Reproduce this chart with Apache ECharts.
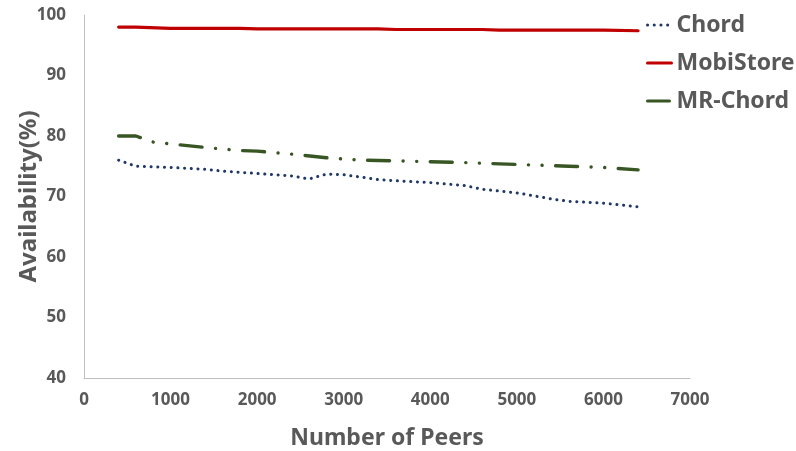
<!DOCTYPE html>
<html>
<head>
<meta charset="utf-8">
<script src="https://cdn.jsdelivr.net/npm/echarts@6/dist/echarts.min.js"></script>
<style>
  html, body { margin: 0; padding: 0; background: #fff; }
  #main { width: 796px; height: 451px; }
</style>
</head>
<body>
<div id="main"></div>
<script>
// values
var chordPeers = [400, 600, 800, 1000, 1400, 1600, 2000, 2400, 2600, 2800, 3000, 3400, 3600, 4000, 4400, 4600, 5000, 5400, 5600, 6000, 6400];
var chordVals  = [76.0, 75.0, 74.9, 74.8, 74.5, 74.2, 73.8, 73.4, 72.9, 73.7, 73.6, 72.8, 72.6, 72.3, 71.8, 71.2, 70.6, 69.6, 69.2, 68.9, 68.3];

var mobiPeers = [400, 600, 1000, 1800, 2000, 3400, 3600, 4600, 4800, 6000, 6400];
var mobiVals  = [98.0, 98.0, 97.8, 97.8, 97.7, 97.7, 97.6, 97.6, 97.5, 97.5, 97.4];

var mrPeers = [400, 600, 800, 1000, 1400, 1800, 2000, 2400, 2800, 3200, 3600, 4400, 4800, 5600, 6000, 6400];
var mrVals  = [80.0, 80.0, 79.0, 78.7, 78.1, 77.6, 77.5, 77.0, 76.4, 76.0, 75.9, 75.6, 75.4, 75.0, 74.8, 74.4];

function pairs(xs, ys) {
    var out = [];
    for (var i = 0; i < xs.length; i++) out.push([xs[i], ys[i]]);
    return out;
}

var textColor = '#595959';
var fontFam = '"Noto Sans", "Open Sans", sans-serif';

var chart = echarts.init(document.getElementById('main'));
var option = {
    animation: false,
    grid: { left: 84, right: 106, top: 15, bottom: 73, containLabel: false, outerBoundsMode: 'none' },
    legend: {
        orient: 'vertical',
        left: 646,
        top: 13,
        padding: 0,
        itemWidth: 24,
        itemHeight: 14,
        itemGap: 14,
        itemStyle: { opacity: 0 },
        lineStyle: { width: 3 },
        textStyle: { color: textColor, fontSize: 23, fontWeight: 'bold', fontFamily: fontFam, lineHeight: 24 },
        data: ['Chord', 'MobiStore', 'MR-Chord']
    },
    xAxis: {
        type: 'value',
        min: 0,
        max: 7000,
        interval: 1000,
        name: 'Number of Peers',
        nameLocation: 'middle',
        nameGap: 49,
        nameMoveOverlap: false,
        nameTextStyle: { color: textColor, fontSize: 23, fontWeight: 'bold', fontFamily: fontFam },
        axisLine: { show: true, lineStyle: { color: '#bfbfbf', width: 1 } },
        axisTick: { show: false },
        splitLine: { show: false },
        axisLabel: {
            color: textColor, fontSize: 17, fontWeight: 'bold', fontFamily: fontFam, margin: 14,
            formatter: function (v) { return String(v); }
        }
    },
    yAxis: {
        type: 'value',
        min: 40,
        max: 100,
        interval: 10,
        name: 'Availability(%)',
        nameLocation: 'middle',
        nameGap: 43,
        nameMoveOverlap: false,
        nameTextStyle: { color: textColor, fontSize: 24, fontWeight: 'bold', fontFamily: fontFam },
        axisLine: { show: true, lineStyle: { color: '#bfbfbf', width: 1 } },
        axisTick: { show: false },
        splitLine: { show: false },
        axisLabel: { color: textColor, fontSize: 17, fontWeight: 'bold', fontFamily: fontFam, margin: 18 }
    },
    series: [
        {
            name: 'Chord',
            type: 'line',
            showSymbol: false,
            symbol: 'none',
            data: pairs(chordPeers, chordVals),
            lineStyle: { color: '#203864', width: 3, type: [0.1, 6.6], cap: 'round' },
            itemStyle: { color: '#203864' }
        },
        {
            name: 'MobiStore',
            type: 'line',
            showSymbol: false,
            symbol: 'none',
            data: pairs(mobiPeers, mobiVals),
            lineStyle: { color: '#c00000', width: 3.2, cap: 'round' },
            itemStyle: { color: '#c00000' }
        },
        {
            name: 'MR-Chord',
            type: 'line',
            showSymbol: false,
            symbol: 'none',
            data: pairs(mrPeers, mrVals),
            lineStyle: { color: '#375623', width: 3.4, type: [22, 13.5, 0.1, 13.5, 0.1, 13.5], cap: 'round' },
            itemStyle: { color: '#375623' }
        }
    ]
};
chart.setOption(option);
</script>
</body>
</html>
